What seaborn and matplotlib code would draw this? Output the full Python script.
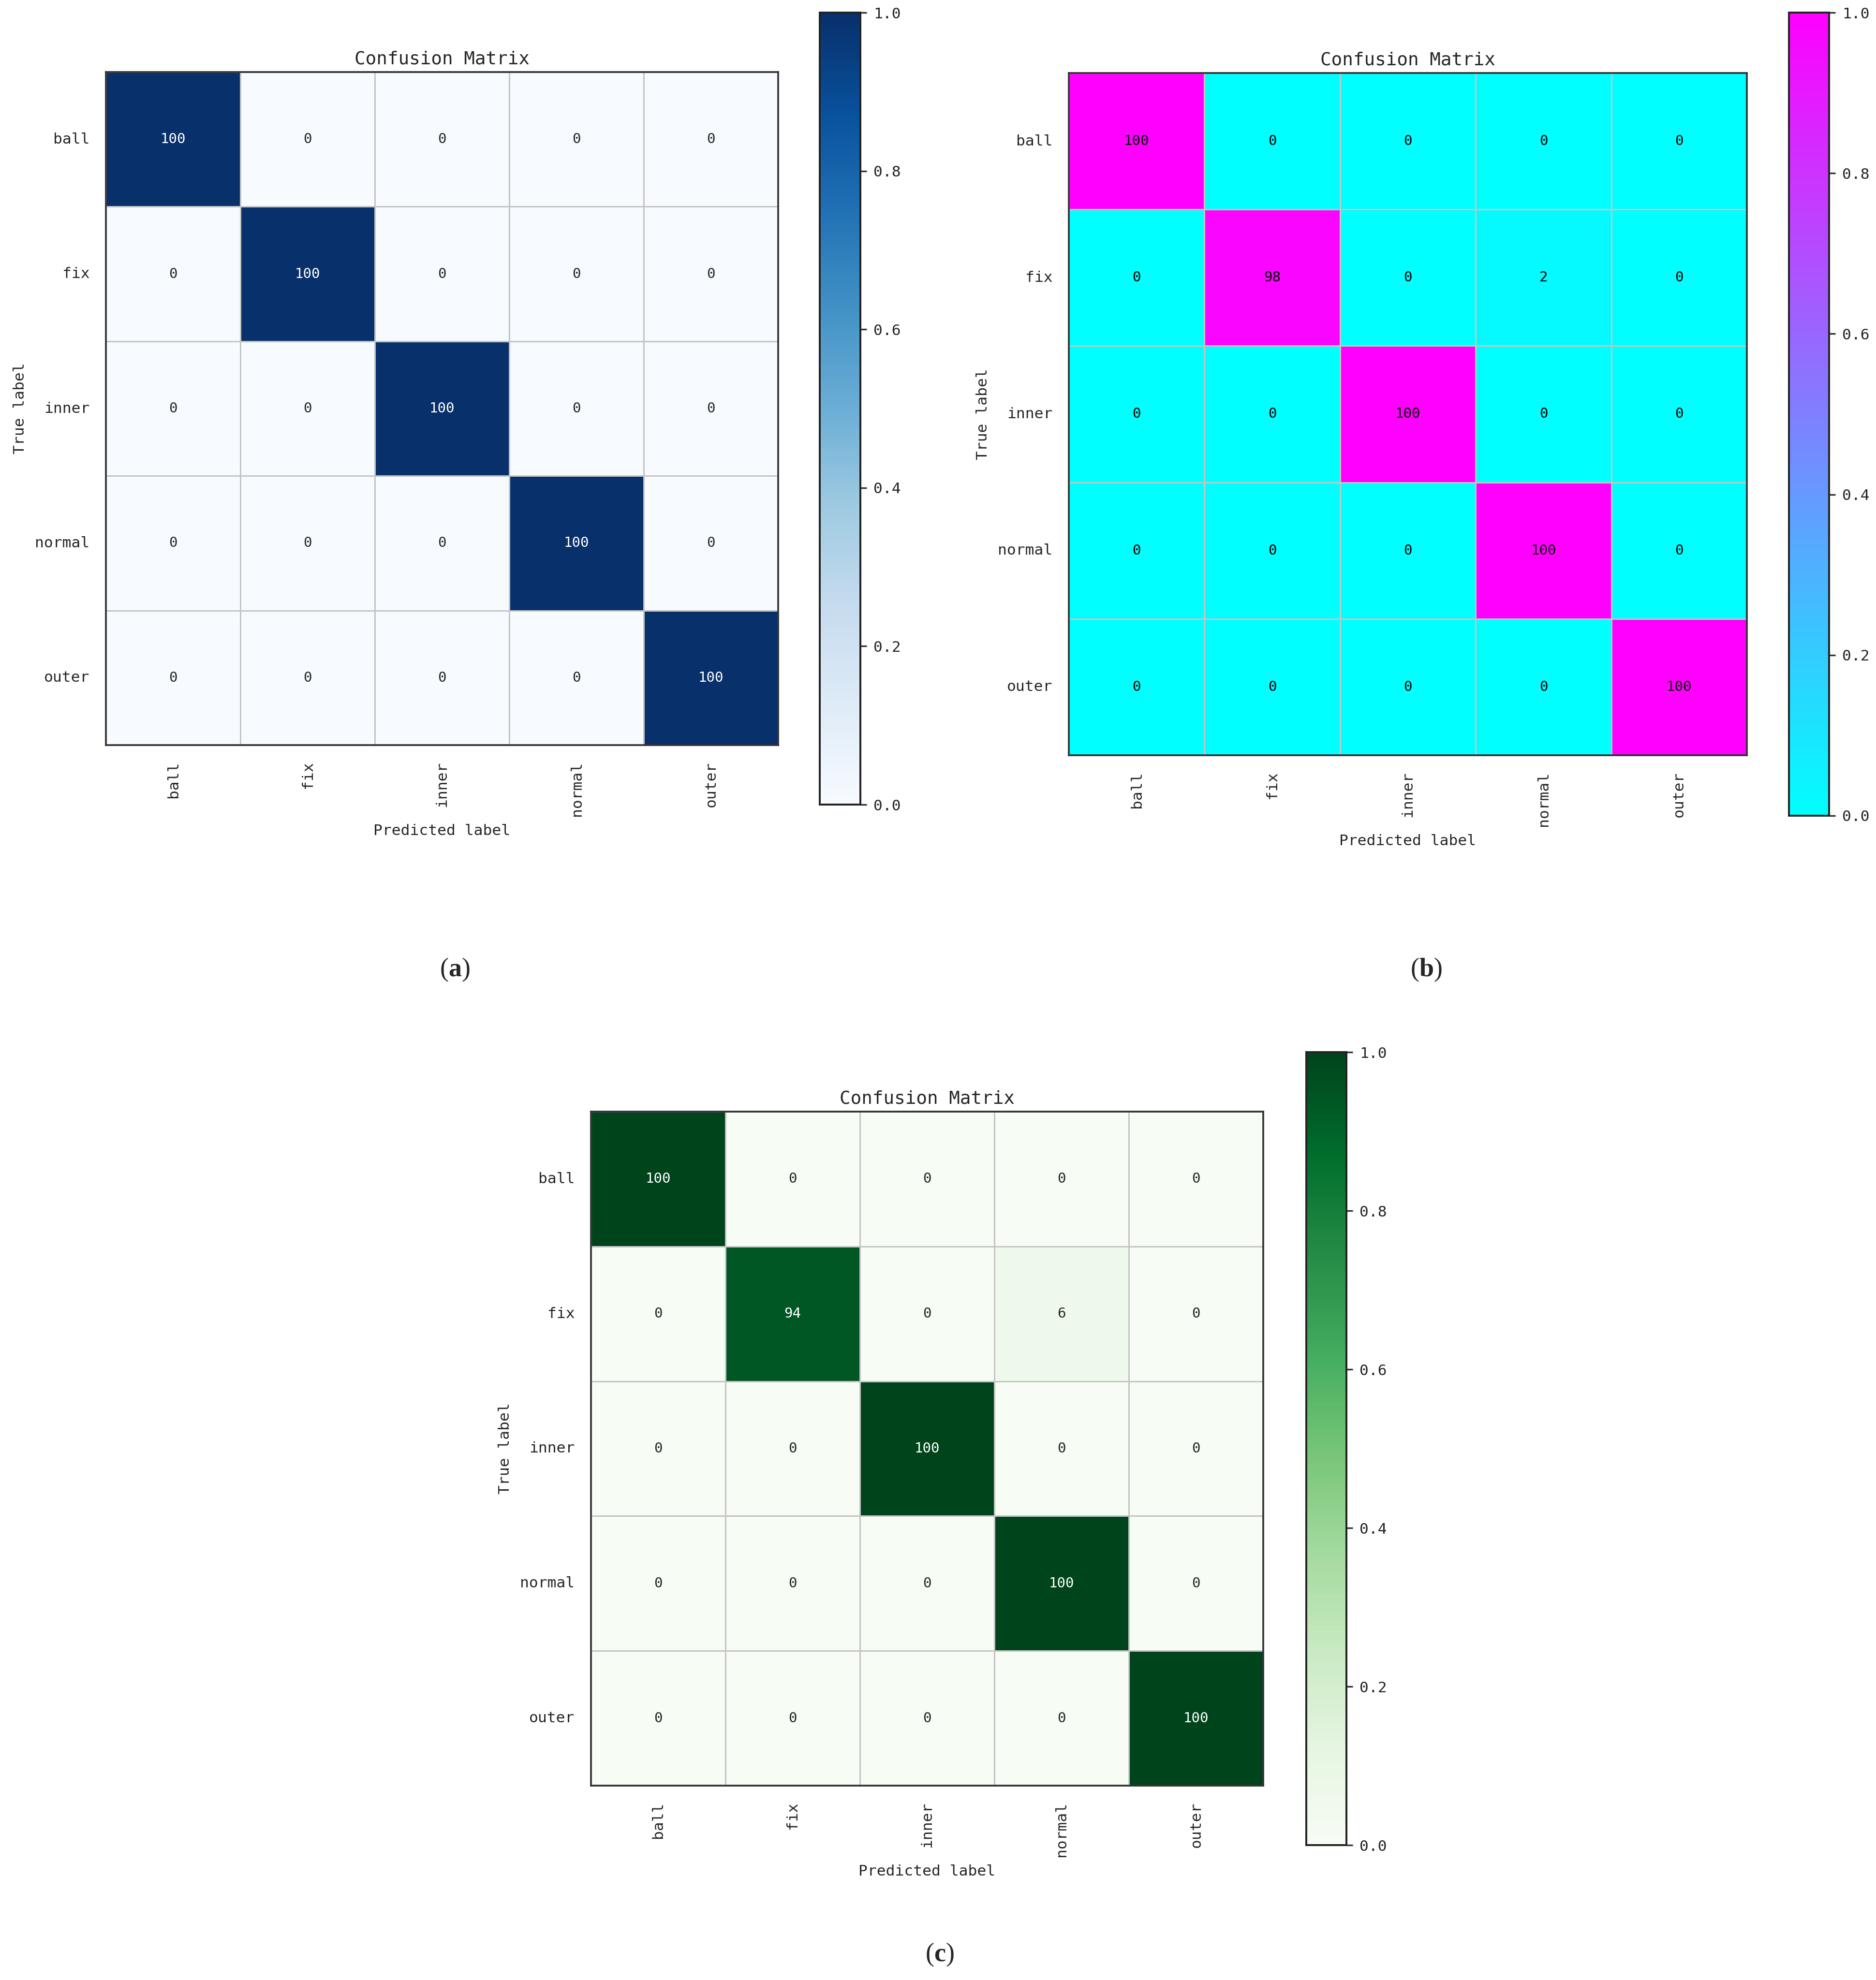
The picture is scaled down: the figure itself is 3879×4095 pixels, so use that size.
import numpy as np
import matplotlib
matplotlib.use("Agg")
import matplotlib.pyplot as plt
import seaborn as sns

classes = ["ball", "fix", "inner", "normal", "outer"]

# percent of samples per true class
cm_a = [[100, 0, 0, 0, 0],
        [0, 100, 0, 0, 0],
        [0, 0, 100, 0, 0],
        [0, 0, 0, 100, 0],
        [0, 0, 0, 0, 100]]

cm_b = [[100, 0, 0, 0, 0],
        [0, 98, 0, 2, 0],
        [0, 0, 100, 0, 0],
        [0, 0, 0, 100, 0],
        [0, 0, 0, 0, 100]]

cm_c = [[100, 0, 0, 0, 0],
        [0, 94, 0, 6, 0],
        [0, 0, 100, 0, 0],
        [0, 0, 0, 100, 0],
        [0, 0, 0, 0, 100]]

panel_letters = ["a", "b", "c"]
cmaps = ["Blues", "cool", "Greens"]

sns.set_style("white")
plt.rcParams['font.family'] = ['DejaVu Sans Mono', 'Noto Sans CJK SC']
plt.rcParams['mathtext.fontset'] = 'custom'
plt.rcParams['mathtext.bf'] = 'Liberation Serif:bold'
plt.rcParams['mathtext.rm'] = 'Liberation Serif'

W, H = 3879, 4095
fig = plt.figure(figsize=(W / 300, H / 300), dpi=300)


def px_axes(x0, y0, x1, y1):
    # pixel box (top-left origin) -> figure fraction
    return fig.add_axes([x0 / W, 1 - y1 / H, (x1 - x0) / W, (y1 - y0) / H])


def draw_cm(cm, cmap, box, cbox, black_text=False):
    ax = px_axes(*box)
    cax = px_axes(*cbox)
    cm = np.array(cm)
    kws = {"fontsize": 7}
    if black_text:
        kws["color"] = "black"
    sns.heatmap(cm / 100.0, annot=cm, fmt="d", cmap=cmap, vmin=0, vmax=1,
                linewidths=0.6, linecolor="#c4c4c4", square=False,
                xticklabels=classes, yticklabels=classes,
                ax=ax, cbar_ax=cax, annot_kws=kws)
    for s in ax.spines.values():
        s.set_visible(True)
        s.set_color("#333333")
        s.set_linewidth(0.9)
    ax.set_title("Confusion Matrix", fontsize=9, pad=4)
    ax.set_xlabel("Predicted label", fontsize=7.5)
    ax.set_ylabel("True label", fontsize=7.5)
    ax.tick_params(axis="both", length=0, labelsize=7.5, pad=8)
    plt.setp(ax.get_xticklabels(), rotation=90)
    plt.setp(ax.get_yticklabels(), rotation=0)
    cax.set_yticks([0, 0.2, 0.4, 0.6, 0.8, 1.0])
    cax.set_yticklabels(["0.0", "0.2", "0.4", "0.6", "0.8", "1.0"])
    cax.tick_params(labelsize=7.5, length=3, width=0.8, color="#333333")
    for s in cax.spines.values():
        s.set_visible(True)
        s.set_color("#222222")
        s.set_linewidth(0.9)
    return ax


draw_cm(cm_a, cmaps[0], (219, 149, 1609, 1541), (1695, 26, 1779, 1664))
draw_cm(cm_b, cmaps[1], (2210, 151, 3612, 1562), (3699, 26, 3782, 1687), black_text=True)
draw_cm(cm_c, cmaps[2], (1222, 2299, 2612, 3693), (2701, 2176, 2784, 3816))

label_pos = [(940, 2006), (2949, 2006), (1943, 4043)]
for letter, (x, y) in zip(panel_letters, label_pos):
    fig.text(x / W, 1 - y / H, "($\\mathbf{" + letter + "}$)", ha="center", va="center",
             fontsize=13, family="Liberation Serif")

plt.savefig("out.png", dpi=300)
